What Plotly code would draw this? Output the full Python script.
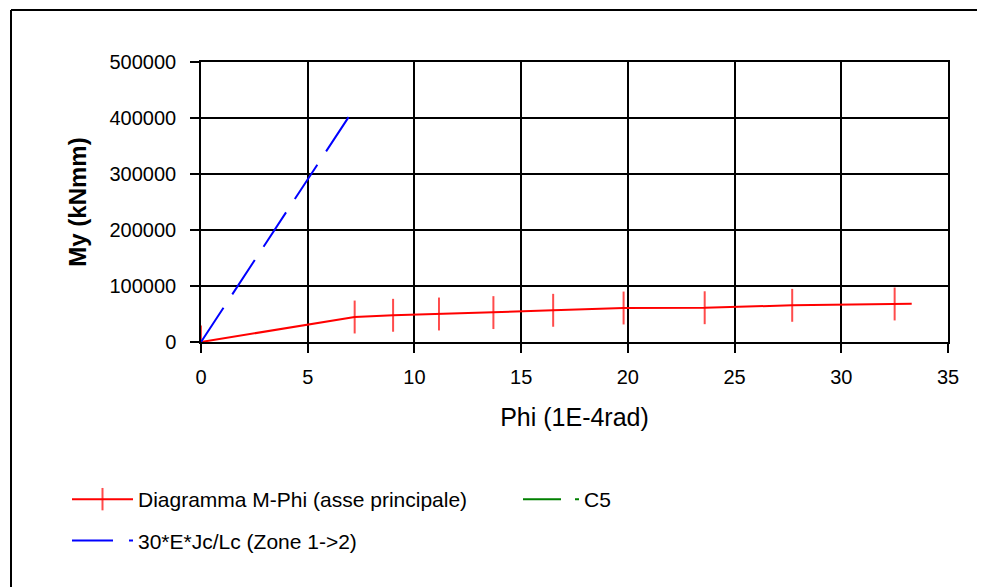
import plotly.graph_objects as go

# ---- data ----
mphi_x = [0, 7.2, 9.0, 11.15, 13.7, 16.5, 19.8, 23.6, 27.7, 32.5, 33.3]
mphi_y = [0, 44600, 47700, 50000, 52500, 56600, 60700, 61200, 65500, 67900, 68500]
mphi_marked = [True, True, True, True, True, True, True, True, True, True, False]

zone_x = [0, 6.95]
zone_y = [0, 403600]

x_ticks = [0, 5, 10, 15, 20, 25, 30, 35]
y_ticks = [0, 100000, 200000, 300000, 400000, 500000]

# ---- layout geometry (pixels, page coordinates) ----
OFF = 8  # default body margin of the html page
W, H = 985 - OFF, 587 - OFF
L, R, T, B = 201, 948, 62, 342
pw, ph = R - L, B - T


def px(xp):
    return (xp - L) / pw


def py(yp):
    return (B - yp) / ph


FONT = "Liberation Sans, Arial, sans-serif"

fig = go.Figure()

fig.add_trace(go.Scatter(
    x=mphi_x, y=mphi_y, mode="lines+markers",
    name="Diagramma M-Phi (asse principale)",
    line=dict(color="#FF0000", width=2),
    marker=dict(symbol="line-ns", size=[23.5 if m else 0 for m in mphi_marked],
                color="#FF0000", line=dict(color="#FF0000", width=2)),
    legend="legend", legendgroup="a",
))

fig.add_trace(go.Scatter(
    x=zone_x, y=zone_y, mode="lines",
    name="30*E*Jc/Lc (Zone 1->2)",
    line=dict(color="#0000FF", width=2, dash="41px,16px"),
    legend="legend", legendgroup="b",
))

fig.add_trace(go.Scatter(
    x=[None], y=[None], mode="lines",
    name="C5",
    line=dict(color="#008000", width=2, dash="38px,14px"),
    legend="legend2",
))

axis_common = dict(
    showgrid=True, gridcolor="black", gridwidth=1.5,
    showline=True, linecolor="black", linewidth=1.5, mirror=True,
    ticks="outside", ticklen=9, tickwidth=1.5, tickcolor="black",
    zeroline=False, layer="below traces",
    tickfont=dict(family=FONT, size=20, color="black"),
)

fig.update_layout(
    width=W, height=H,
    margin=dict(l=L - OFF, r=W - (R - OFF), t=T - OFF, b=H - (B - OFF), autoexpand=False),
    paper_bgcolor="white", plot_bgcolor="white",
    font=dict(family=FONT, color="black"),
    xaxis=dict(range=[0, 35], tickvals=x_ticks, ticklabelstandoff=7,
               title=dict(text="Phi (1E-4rad)", font=dict(family=FONT, size=25), standoff=22),
               **axis_common),
    yaxis=dict(range=[0, 500000], tickvals=y_ticks, tickformat="d", ticklabelstandoff=10,
               title=dict(text="<b>My (kNmm)</b>", font=dict(family=FONT, size=24), standoff=16),
               **axis_common),
    legend=dict(x=px(67), y=py(479), xanchor="left", yanchor="top",
                orientation="v", itemwidth=61, tracegroupgap=11,
                font=dict(family=FONT, size=21, color="black"),
                bgcolor="rgba(0,0,0,0)"),
    legend2=dict(x=px(518), y=py(479), xanchor="left", yanchor="top",
                 orientation="v", itemwidth=56,
                 font=dict(family=FONT, size=21, color="black"),
                 bgcolor="rgba(0,0,0,0)"),
    shapes=[
        dict(type="line", xref="paper", yref="paper",
             x0=px(11), x1=px(1000), y0=py(10), y1=py(10),
             line=dict(color="black", width=2)),
        dict(type="line", xref="paper", yref="paper",
             x0=px(11), x1=px(11), y0=py(10), y1=py(600),
             line=dict(color="black", width=2)),
    ],
)

fig.write_html("out.html")
